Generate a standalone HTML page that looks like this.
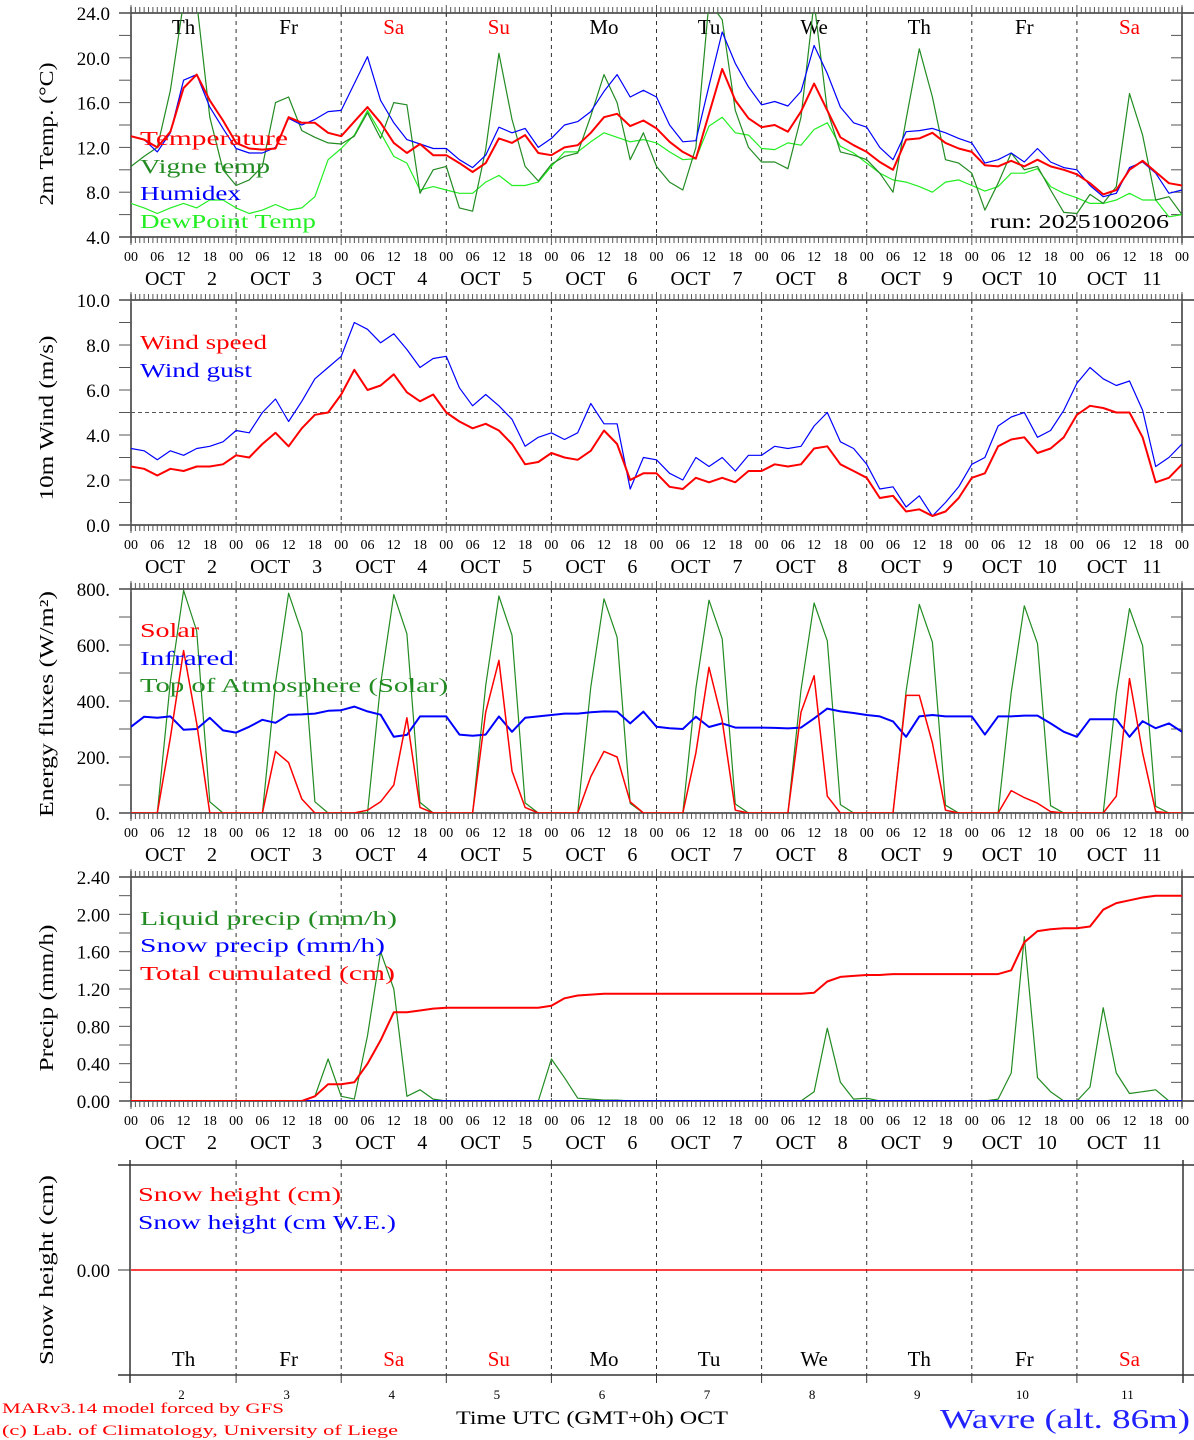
<!DOCTYPE html>
<html><head><meta charset="utf-8">
<style>
html,body{margin:0;padding:0;background:#fff;}
svg{display:block;font-family:"Liberation Serif",serif;}
</style></head>
<body>
<svg id="chart" width="1194" height="1440" viewBox="0 0 1194 1440" xmlns="http://www.w3.org/2000/svg">
<defs>
<clipPath id="c1"><rect x="131" y="13" width="1051" height="224"/></clipPath>
<clipPath id="c2"><rect x="131" y="300" width="1051" height="225"/></clipPath>
<clipPath id="c3"><rect x="131" y="589" width="1051" height="224"/></clipPath>
<clipPath id="c4"><rect x="131" y="877" width="1051" height="224"/></clipPath>
</defs>
<g id="axes"></g>
<g id="series"></g>
<g id="texts">
<text x="140" y="145" font-size="20" fill="#ff0000" textLength="148" lengthAdjust="spacingAndGlyphs">Temperature</text>
<text x="140" y="173" font-size="20" fill="#228b22" textLength="130" lengthAdjust="spacingAndGlyphs">Vigne temp</text>
<text x="140" y="200" font-size="20" fill="#0000ff" textLength="101" lengthAdjust="spacingAndGlyphs">Humidex</text>
<text x="140" y="228" font-size="20" fill="#22ee22" textLength="176" lengthAdjust="spacingAndGlyphs">DewPoint Temp</text>
<text x="990" y="228" font-size="20" fill="#000" textLength="179" lengthAdjust="spacingAndGlyphs">run: 2025100206</text>
<text x="140" y="349" font-size="20" fill="#ff0000" textLength="127" lengthAdjust="spacingAndGlyphs">Wind speed</text>
<text x="140" y="377" font-size="20" fill="#0000ff" textLength="112" lengthAdjust="spacingAndGlyphs">Wind gust</text>
<text x="140" y="637" font-size="20" fill="#ff0000" textLength="59" lengthAdjust="spacingAndGlyphs">Solar</text>
<text x="140" y="665" font-size="20" fill="#0000ff" textLength="94" lengthAdjust="spacingAndGlyphs">Infrared</text>
<text x="140" y="692" font-size="20" fill="#228b22" textLength="308" lengthAdjust="spacingAndGlyphs">Top of Atmosphere (Solar)</text>
<text x="140" y="925" font-size="20" fill="#228b22" textLength="257" lengthAdjust="spacingAndGlyphs">Liquid precip (mm/h)</text>
<text x="140" y="952" font-size="20" fill="#0000ff" textLength="245" lengthAdjust="spacingAndGlyphs">Snow precip (mm/h)</text>
<text x="140" y="980" font-size="20" fill="#ff0000" textLength="255" lengthAdjust="spacingAndGlyphs">Total cumulated (cm)</text>
<text x="138" y="1201" font-size="20" fill="#ff0000" textLength="203" lengthAdjust="spacingAndGlyphs">Snow height (cm)</text>
<text x="138" y="1229" font-size="20" fill="#0000ff" textLength="258" lengthAdjust="spacingAndGlyphs">Snow height (cm W.E.)</text>
<text transform="translate(53,134) rotate(-90)" text-anchor="middle" font-size="20" textLength="143" lengthAdjust="spacingAndGlyphs">2m Temp. (°C)</text>
<text transform="translate(53,418) rotate(-90)" text-anchor="middle" font-size="20" textLength="165" lengthAdjust="spacingAndGlyphs">10m Wind (m/s)</text>
<text transform="translate(53,704) rotate(-90)" text-anchor="middle" font-size="20" textLength="226" lengthAdjust="spacingAndGlyphs">Energy fluxes (W/m²)</text>
<text transform="translate(53,998) rotate(-90)" text-anchor="middle" font-size="20" textLength="147" lengthAdjust="spacingAndGlyphs">Precip (mm/h)</text>
<text transform="translate(53,1270) rotate(-90)" text-anchor="middle" font-size="20" textLength="190" lengthAdjust="spacingAndGlyphs">Snow height (cm)</text>
<text x="2" y="1413" font-size="15" fill="#ff0000" textLength="282" lengthAdjust="spacingAndGlyphs">MARv3.14 model forced by GFS</text>
<text x="2" y="1435" font-size="15" fill="#ff0000" textLength="396" lengthAdjust="spacingAndGlyphs">(c) Lab. of Climatology, University of Liege</text>
<text x="456" y="1424" font-size="19" fill="#000" textLength="272" lengthAdjust="spacingAndGlyphs">Time UTC (GMT+0h) OCT</text>
<text x="940" y="1428" font-size="27" fill="#2222ff" textLength="250" lengthAdjust="spacingAndGlyphs">Wavre (alt. 86m)</text>
</g>
</svg>
<script>
// ---- data (3-hourly, Oct 2 00UTC .. Oct 12 00UTC) ----
const dayNames = ["Th","Fr","Sa","Su","Mo","Tu","We","Th","Fr","Sa"];
const dayNums = ["2","3","4","5","6","7","8","9","10","11"];
const hourLabels = ["00","06","12","18"];
const tempTicks = ["4.0","8.0","12.0","16.0","20.0","24.0"];
const windTicks = ["0.0","2.0","4.0","6.0","8.0","10.0"];
const fluxTicks = ["0.","200.","400.","600.","800."];
const precipTicks = ["0.00","0.40","0.80","1.20","1.60","2.00","2.40"];

const temperature = [13.0,12.7,12.0,13.4,17.3,18.5,16.2,14.4, 12.4,11.9,11.8,11.9,14.7,14.2,14.2,13.3, 13.0,14.3,15.6,14.2,12.4,11.5,12.3,11.3, 11.3,10.6,9.8,10.6,12.8,12.4,13.1,11.5, 11.3,12.0,12.2,13.3,14.7,15.0,13.9,14.4, 13.7,12.5,11.6,11.0,15.0,19.0,16.2,14.6, 13.8,14.0,13.4,15.2,17.7,15.3,12.9,12.2, 11.6,10.7,10.0,12.7,12.8,13.3,12.4,11.9, 11.6,10.4,10.3,10.8,10.3,10.9,10.3,10.0, 9.6,8.8,7.8,8.2,10.0,10.8,9.8,8.8,8.6];
const humidex = [13.0,12.7,11.6,13.3,18.0,18.5,15.6,13.7, 11.9,11.5,11.5,12.0,14.6,14.0,14.5,15.2, 15.3,17.7,20.1,16.2,14.2,12.7,12.3,11.9, 11.9,10.9,10.2,11.3,13.8,13.3,13.7,12.0, 12.8,14.0,14.3,15.2,17.0,18.5,16.5,17.1, 16.5,14.0,12.5,12.6,17.5,22.3,19.5,17.4, 15.8,16.1,15.7,17.0,21.1,18.6,15.6,14.2, 13.8,12.0,10.9,13.4,13.5,13.7,13.3,12.8, 12.4,10.6,10.9,11.5,10.7,11.9,10.7,10.2, 10.0,8.6,7.6,7.9,10.2,10.7,9.7,7.9,8.2];
const vigneTemp = [10.3,11.2,12.0,17.1,25.0,25.0,14.7,10.0, 8.6,9.1,10.3,16.0,16.5,13.5,12.9,12.4, 12.3,13.0,15.1,12.8,16.0,15.8,7.9,10.0, 10.3,6.6,6.3,11.8,20.4,14.5,10.3,9.0, 10.5,11.2,11.5,14.8,18.5,16.0,10.9,13.3, 10.3,8.9,8.2,12.0,25.0,23.4,15.3,12.0, 10.7,10.7,10.1,14.7,25.0,15.3,11.6,11.3, 10.9,9.7,8.0,14.5,20.8,16.5,10.9,10.6, 9.7,6.4,8.8,11.5,10.0,10.3,8.2,6.2, 6.1,7.8,7.0,8.5,16.8,13.1,7.3,7.6,6.0];
const dewPoint = [7.0,6.6,6.1,6.6,7.0,6.6,7.3,7.3, 6.6,6.1,6.4,6.9,6.4,6.6,7.6,10.9, 11.9,13.1,15.3,13.3,11.2,10.6,8.2,8.5, 8.2,7.9,7.9,8.9,9.5,8.6,8.6,8.9, 10.3,11.6,11.6,12.5,13.3,12.9,12.5,12.7, 12.4,11.6,10.9,11.0,13.9,14.7,13.3,13.1, 11.9,11.8,12.4,12.2,13.6,14.2,12.1,11.5, 10.6,9.7,9.1,8.9,8.5,8.0,8.9,9.1, 8.6,8.1,8.5,9.7,9.7,10.1,8.5,7.9, 7.5,7.0,7.0,7.3,7.9,7.3,7.3,5.8,6.0];

const windSpeed = [2.6,2.5,2.2,2.5,2.4,2.6,2.6,2.7, 3.1,3.0,3.6,4.1,3.5,4.3,4.9,5.0, 5.8,6.9,6.0,6.2,6.7,5.9,5.5,5.8, 5.0,4.6,4.3,4.5,4.2,3.6,2.7,2.8, 3.2,3.0,2.9,3.3,4.2,3.6,2.0,2.3, 2.3,1.7,1.6,2.1,1.9,2.1,1.9,2.4, 2.4,2.7,2.6,2.7,3.4,3.5,2.7,2.4, 2.1,1.2,1.3,0.6,0.7,0.4,0.6,1.2, 2.1,2.3,3.5,3.8,3.9,3.2,3.4,3.9, 4.9,5.3,5.2,5.0,5.0,3.9,1.9,2.1,2.7];
const windGust = [3.4,3.3,2.9,3.3,3.1,3.4,3.5,3.7, 4.2,4.1,5.0,5.6,4.6,5.5,6.5,7.0, 7.5,9.0,8.7,8.1,8.5,7.8,7.0,7.4, 7.5,6.1,5.3,5.8,5.3,4.7,3.5,3.9, 4.1,3.8,4.1,5.4,4.5,4.5,1.6,3.0, 2.9,2.3,2.0,3.0,2.6,3.0,2.4,3.1, 3.1,3.5,3.4,3.5,4.4,5.0,3.7,3.4, 2.7,1.6,1.7,0.8,1.3,0.4,1.0,1.7, 2.7,3.0,4.4,4.8,5.0,3.9,4.2,5.1, 6.3,7.0,6.5,6.2,6.4,5.1,2.6,3.0,3.6];

const solar = [0,0,0,270,580,320,0,0, 0,0,0,220,180,50,0,0, 0,0,10,40,100,340,20,0, 0,0,0,360,545,150,20,0, 0,0,0,130,220,200,40,0, 0,0,0,215,520,330,10,0, 0,0,0,360,490,60,0,0, 0,0,0,420,420,250,10,0, 0,0,0,80,55,35,5,0, 0,0,0,60,480,215,5,0,0];
const infrared = [308,344,340,345,297,300,340,295, 287,308,333,322,351,352,355,365, 367,380,363,351,272,279,345,345, 345,280,276,280,345,290,340,345, 350,355,355,360,363,362,320,362, 308,303,300,344,307,320,305,305, 305,304,302,305,338,373,363,357, 350,345,327,272,345,350,345,345, 345,280,345,345,348,348,320,290, 272,335,335,335,272,328,303,320,290];
const toaSolar = [0,0,0,470,795,650,40,0, 0,0,0,465,785,645,40,0, 0,0,0,460,780,640,38,0, 0,0,0,455,775,635,36,0, 0,0,0,450,765,628,34,0, 0,0,0,445,760,622,32,0, 0,0,0,440,750,615,30,0, 0,0,0,435,745,610,28,0, 0,0,0,430,740,605,26,0, 0,0,0,425,730,598,24,0,0];

const liquidPrecip = [0,0,0,0,0,0,0,0, 0,0,0,0,0,0,0.05,0.45, 0.05,0.02,0.7,1.6,1.2,0.05,0.12,0.02, 0,0,0,0,0,0,0,0, 0.45,0.25,0.03,0.02,0.01,0.01,0,0, 0,0,0,0,0,0,0,0, 0,0,0,0,0.1,0.78,0.2,0.02, 0.03,0,0,0,0,0,0,0, 0,0,0.02,0.3,1.76,0.25,0.1,0, 0,0.15,1.0,0.3,0.08,0.1,0.12,0,0];
const snowPrecip = [0,0,0,0,0,0,0,0, 0,0,0,0,0,0,0,0, 0,0,0,0,0,0,0,0, 0,0,0,0,0,0,0,0, 0,0,0,0,0,0,0,0, 0,0,0,0,0,0,0,0, 0,0,0,0,0,0,0,0, 0,0,0,0,0,0,0,0, 0,0,0,0,0,0,0,0, 0,0,0,0,0,0,0,0,0];
const totalCumulated = [0,0,0,0,0,0,0,0, 0,0,0,0,0,0,0.05,0.18, 0.18,0.2,0.4,0.65,0.95,0.95,0.97,0.99, 1.0,1.0,1.0,1.0,1.0,1.0,1.0,1.0, 1.02,1.1,1.13,1.14,1.15,1.15,1.15,1.15, 1.15,1.15,1.15,1.15,1.15,1.15,1.15,1.15, 1.15,1.15,1.15,1.15,1.16,1.28,1.33,1.34, 1.35,1.35,1.36,1.36,1.36,1.36,1.36,1.36, 1.36,1.36,1.36,1.4,1.7,1.82,1.84,1.85, 1.85,1.87,2.05,2.12,2.15,2.18,2.2,2.2,2.2];
const snowHeight = [0,0,0,0,0,0,0,0,0,0,0];

// ---- layout ----
const NS = "http://www.w3.org/2000/svg";
const X0 = 131, X1 = 1182, HOURS = 240, STEP = 3;
function xh(h){ return X0 + h*(X1-X0)/HOURS; }
const axesG = document.getElementById('axes');
const seriesG = document.getElementById('series');
function el(tag, attrs, parent){
  const e = document.createElementNS(NS, tag);
  for (const k in attrs) e.setAttribute(k, attrs[k]);
  (parent||axesG).appendChild(e);
  return e;
}
function line(x1,y1,x2,y2,stroke,w,dash){
  const a = {x1:x1,y1:y1,x2:x2,y2:y2,stroke:stroke,'stroke-width':w||1};
  if (dash) a['stroke-dasharray']=dash;
  return el('line', a);
}
function txt(x,y,s,size,anchor,fill){
  const t = el('text',{x:x,y:y,'font-size':size,'text-anchor':anchor||'middle',fill:fill||'#000'});
  t.textContent = s;
  return t;
}

const panels = [
  {top:13, bot:237, min:4, max:24, ticks:tempTicks, minor:2, clip:'c1', name:'temp'},
  {top:300, bot:525, min:0, max:10, ticks:windTicks, minor:1, clip:'c2', name:'wind'},
  {top:589, bot:813, min:0, max:800, ticks:fluxTicks, minor:100, clip:'c3', name:'flux'},
  {top:877, bot:1101, min:0, max:2.4, ticks:precipTicks, minor:0.2, clip:'c4', name:'precip'}
];
function yScale(p){ return v => p.bot - (v - p.min) * (p.bot - p.top) / (p.max - p.min); }

panels.forEach((p, pi) => {
  const ys = yScale(p);
  // frame
  const fr = line(119, p.top, 1194, p.top, '#333', 1.5);
  
  
  const fb = line(119, p.bot, 1194, p.bot, '#333', 1.5);
  
  
  line(X0, p.top-6, X0, p.bot+6, '#333', 1.5);
  line(X1, p.top-6, X1, p.bot+6, '#333', 1.5);
  // hourly ticks
  for (let h = 0; h <= HOURS; h++) {
    const x = xh(h), major = h % 24 === 0;
    line(x, p.top - (major?8:6), x, p.top + (major?3:0), '#555', 1);
    line(x, p.bot - (major?3:0), x, p.bot + (major?8:6), '#555', 1);
  }
  // day dashed lines
  for (let d = 1; d < 10; d++) line(xh(d*24), p.top, xh(d*24), p.bot, '#333', 1, '4,4');
  // y ticks
  for (let v = p.min; v <= p.max + 1e-9; v += p.minor) {
    const y = ys(v);
    line(119, y, X0, y, '#555', 1);
    line(X1-11, y, X1, y, '#555', 1);
  }
  p.ticks.forEach(s => {
    const t = txt(110, ys(parseFloat(s)) + 7, s, 19, 'end');
    
    
  });
  // hour labels & dates
  for (let d = 0; d <= 10; d++) {
    for (let k = 0; k < 4; k++) {
      if (d === 10 && k > 0) break;
      const t = txt(xh(d*24 + k*6), p.bot + 24, hourLabels[k], 14, 'middle');
      
      
    }
    if (d < 10) {
      const two = dayNums[d].length > 1;
      const o = txt(xh(d*24) + (two?30:34), p.bot + 48, 'OCT', 20, 'middle');
      
      
      const n = txt(xh(d*24) + (two?75:81), p.bot + 48, dayNums[d], 20, 'middle');
      
      
    }
  }
});
// wind threshold
const wth = line(X0, yScale(panels[1])(5), X1, yScale(panels[1])(5), '#555', 1, '4,3');



// day names panel 1
dayNames.forEach((n, d) => {
  const red = (n === 'Sa' || n === 'Su');
  const t = txt(xh(d*24+12), 34, n, 21, 'middle', red ? '#ff0000' : '#000');
  
  
});

// ---- panel 5 ----
const P5T = 1165, P5B = 1375;
const p5t = line(118, P5T, 1194, P5T, '#333', 1.5);


const p5b = line(118, P5B, 1194, P5B, '#333', 1.5);


line(130, 1160, 130, 1383, '#333', 1.5);
line(1183, 1160, 1183, 1383, '#333', 1.5);
for (let d = 1; d < 10; d++) {
  line(xh(d*24), P5T, xh(d*24), P5B, '#333', 1, '4,4');
  line(xh(d*24), 1160, xh(d*24), P5T, '#333', 1);
  line(xh(d*24), P5B, xh(d*24), 1383, '#333', 1);
}
line(118, 1270, 130, 1270, '#333', 1);
line(1183, 1270, 1194, 1270, '#333', 1);
const s0 = txt(110, 1277, '0.00', 19, 'end');


dayNames.forEach((n, d) => {
  const red = (n === 'Sa' || n === 'Su');
  const t = txt(xh(d*24+12), 1366, n, 21, 'middle', red ? '#ff0000' : '#000');
  
  
  const u = txt(xh(d*24+12) - 2, 1399, dayNums[d], 13, 'middle');
  
  
});

// ---- series ----
function poly(values, p, color, width, name, clip){
  const ys = yScale(p);
  const pts = values.map((v, i) => xh(i*STEP).toFixed(1) + ',' + ys(v).toFixed(1)).join(' ');
  const e = document.createElementNS(NS, 'polyline');
  e.setAttribute('points', pts);
  e.setAttribute('fill', 'none');
  e.setAttribute('stroke', color);
  e.setAttribute('stroke-width', width);
  e.setAttribute('stroke-linejoin', 'round');
  e.setAttribute('clip-path', 'url(#' + clip + ')');
  
  
  seriesG.appendChild(e);
}
poly(dewPoint, panels[0], '#22ee22', 1.2, 'dewpoint-line', 'c1');
poly(vigneTemp, panels[0], '#228b22', 1.2, 'vigne-temp-line', 'c1');
poly(humidex, panels[0], '#0000ff', 1.2, 'humidex-line', 'c1');
poly(temperature, panels[0], '#ff0000', 2, 'temperature-line', 'c1');
poly(windGust, panels[1], '#0000ff', 1.2, 'wind-gust-line', 'c2');
poly(windSpeed, panels[1], '#ff0000', 2, 'wind-speed-line', 'c2');
poly(toaSolar, panels[2], '#228b22', 1.2, 'toa-solar-line', 'c3');
poly(infrared, panels[2], '#0000ff', 2, 'infrared-line', 'c3');
poly(solar, panels[2], '#ff0000', 1.5, 'solar-line', 'c3');
poly(liquidPrecip, panels[3], '#228b22', 1.2, 'liquid-precip-line', 'c4');
poly(snowPrecip, panels[3], '#0000ff', 2, 'snow-precip-line', 'c4');
poly(totalCumulated, panels[3], '#ff0000', 2, 'total-cumulated-line', 'c4');
// snow height (flat at 0)
const snowPts = snowHeight.map((v, i) => xh(i*24).toFixed(1) + ',' + (1270 - v*20).toFixed(1)).join(' ');
const sh = document.createElementNS(NS, 'polyline');
sh.setAttribute('points', snowPts);
sh.setAttribute('fill', 'none');
sh.setAttribute('stroke', '#ff0000');
sh.setAttribute('stroke-width', 1.5);


seriesG.appendChild(sh);
</script>
</body></html>
